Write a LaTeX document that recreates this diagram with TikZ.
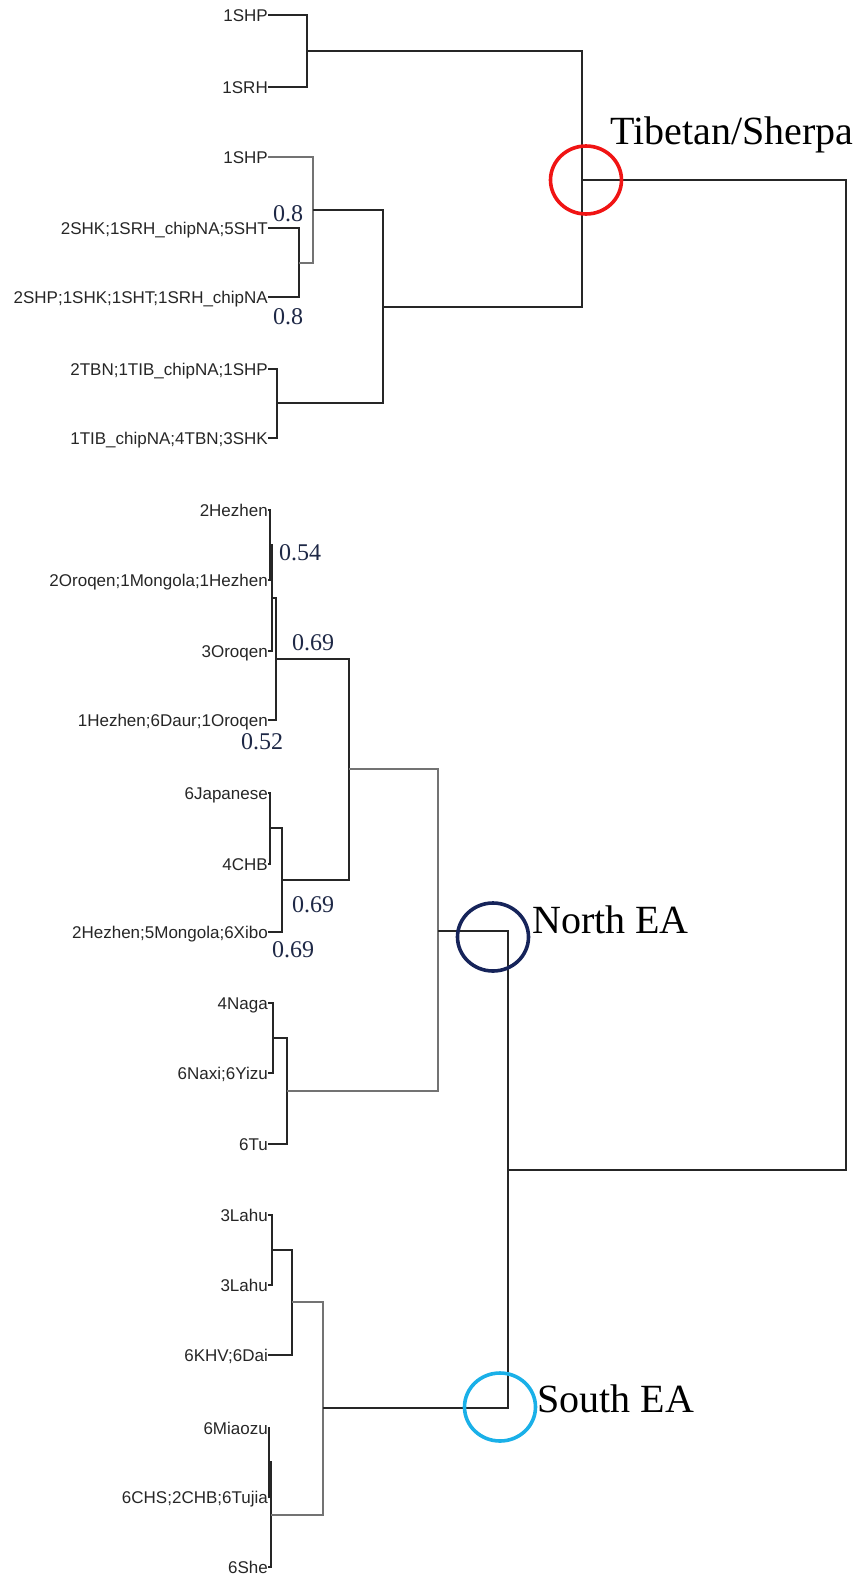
\documentclass[tikz,border=0pt]{standalone}
\usepackage{fontspec}
\setmainfont{Liberation Serif}
\setsansfont{Liberation Sans}
\usetikzlibrary{shapes.geometric}
\definecolor{tibred}{RGB}{240,20,20}
\definecolor{northblue}{RGB}{22,36,90}
\definecolor{southblue}{RGB}{26,176,232}
\definecolor{valnavy}{RGB}{30,40,70}

\begin{document}
\begin{tikzpicture}[x=1pt, y=-1pt,
  leaf/.style={anchor=east, inner sep=0pt, font=\sffamily\fontsize{17}{17}\selectfont, text=black!85, text height=12.2pt, text depth=0pt},
  branch/.style={draw=black!85, line width=2pt},
  palebranch/.style={draw=black!55, line width=2pt},
  value/.style={inner sep=0pt, font=\fontsize{24}{24}\selectfont, text=valnavy},
  cladering/.style={ellipse, line width=3.6pt, minimum width=71pt, minimum height=68pt, inner sep=0pt},
  cladename/.style={anchor=base west, inner sep=0pt, font=\fontsize{40}{40}\selectfont}]
\useasboundingbox (0,0) rectangle (856,1575);
\node[leaf] (L1) at (268,15) {1SHP};
\node[leaf] (L2) at (268,87) {1SRH};
\node[leaf] (L3) at (268,157) {1SHP};
\node[leaf] (L4) at (268,228) {2SHK;1SRH\_chipNA;5SHT};
\node[leaf] (L5) at (268,297) {2SHP;1SHK;1SHT;1SRH\_chipNA};
\node[leaf] (L6) at (268,369) {2TBN;1TIB\_chipNA;1SHP};
\node[leaf] (L7) at (268,438) {1TIB\_chipNA;4TBN;3SHK};
\node[leaf] (L8) at (268,510) {2Hezhen};
\node[leaf] (L9) at (268,580) {2Oroqen;1Mongola;1Hezhen};
\node[leaf] (L10) at (268,651) {3Oroqen};
\node[leaf] (L11) at (268,720) {1Hezhen;6Daur;1Oroqen};
\node[leaf] (L12) at (268,793) {6Japanese};
\node[leaf] (L13) at (268,864) {4CHB};
\node[leaf] (L14) at (268,932) {2Hezhen;5Mongola;6Xibo};
\node[leaf] (L15) at (268,1003) {4Naga};
\node[leaf] (L16) at (268,1073) {6Naxi;6Yizu};
\node[leaf] (L17) at (268,1144) {6Tu};
\node[leaf] (L18) at (268,1215) {3Lahu};
\node[leaf] (L19) at (268,1285) {3Lahu};
\node[leaf] (L20) at (268,1355) {6KHV;6Dai};
\node[leaf] (L21) at (268,1428) {6Miaozu};
\node[leaf] (L22) at (268,1497) {6CHS;2CHB;6Tujia};
\node[leaf] (L23) at (268,1567) {6She};
\coordinate (j1) at (307,51);
\coordinate (j2) at (299,263);
\coordinate (j3) at (313,210);
\coordinate (j4) at (277,403);
\coordinate (j5) at (383,307);
\coordinate (tib) at (582,180);
\coordinate (j6) at (270,545);
\coordinate (j7) at (272,598);
\coordinate (j8) at (276,659);
\coordinate (j9) at (270,828);
\coordinate (j10) at (282,880);
\coordinate (j11) at (349,769);
\coordinate (j12) at (273,1038);
\coordinate (j13) at (287,1091);
\coordinate (north) at (438,931);
\coordinate (j14) at (272,1250);
\coordinate (j15) at (292,1302);
\coordinate (j16) at (269,1462);
\coordinate (j17) at (271,1515);
\coordinate (south) at (323,1408);
\coordinate (ea) at (508,1170);
\coordinate (root) at (846,675);
\draw[branch] (L1.east) -| (j1) |- (L2.east);
\draw[branch] (L4.east) -| (j2) |- (L5.east);
\draw[palebranch] (L3.east) -| (j3) |- (j2);
\draw[branch] (L6.east) -| (j4) |- (L7.east);
\draw[branch] (j3) -| (j5) |- (j4);
\draw[branch] (j1) -| (tib) |- (j5);
\draw[branch] (L8.east) -| (j6) |- (L9.east);
\draw[branch] (j6) -| (j7) |- (L10.east);
\draw[branch] (j7) -| (j8) |- (L11.east);
\draw[branch] (L12.east) -| (j9) |- (L13.east);
\draw[branch] (j9) -| (j10) |- (L14.east);
\draw[branch] (j8) -| (j11) |- (j10);
\draw[branch] (L15.east) -| (j12) |- (L16.east);
\draw[branch] (j12) -| (j13) |- (L17.east);
\draw[palebranch] (j11) -| (north) |- (j13);
\draw[branch] (L18.east) -| (j14) |- (L19.east);
\draw[branch] (j14) -| (j15) |- (L20.east);
\draw[branch] (L21.east) -| (j16) |- (L22.east);
\draw[branch] (j16) -| (j17) |- (L23.east);
\draw[palebranch] (j15) -| (south) |- (j17);
\draw[branch] (north) -| (ea) |- (south);
\draw[branch] (tib) -| (root) |- (ea);
\node[value] (v1) at (288,214) {0.8};
\node[value] (v2) at (288,317) {0.8};
\node[value] (v3) at (300,553) {0.54};
\node[value] (v4) at (313,643) {0.69};
\node[value] (v5) at (262,742) {0.52};
\node[value] (v6) at (313,905) {0.69};
\node[value] (v7) at (293,950) {0.69};
\node[cladering, draw=tibred] (tibring) at (586,180) {};
\node[cladering, draw=northblue] (northring) at (493,937) {};
\node[cladering, draw=southblue] (southring) at (500,1407) {};
\node[cladename] (tibname) at (610,144) {Tibetan/Sherpa};
\node[cladename] (northname) at (532,933) {North EA};
\node[cladename] (southname) at (537,1412) {South EA};
\end{tikzpicture}
\end{document}
